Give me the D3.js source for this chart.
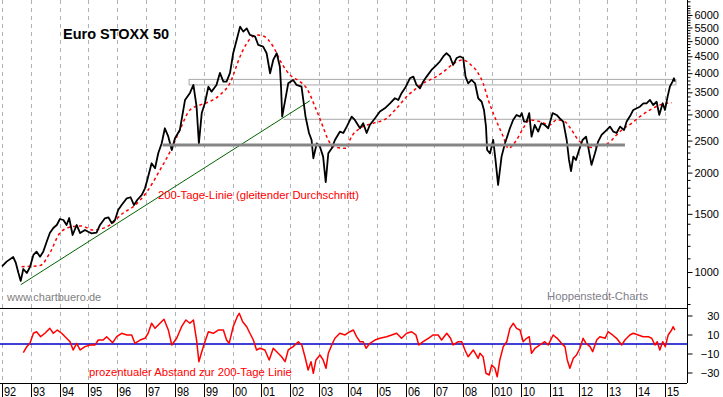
<!DOCTYPE html>
<html>
<head>
<meta charset="utf-8">
<script src="https://cdn.jsdelivr.net/npm/d3@7"></script>
<style>
    body { margin: 0; background: #fff; }
    text { font-family: "Liberation Sans", Arial, sans-serif; }
</style>
</head>
<body>
<svg id="chart"></svg>
<script>
// Euro STOXX 50 (decimal year, index points)
var priceYears = [1992.00, 1992.16, 1992.39, 1992.48, 1992.57, 1992.65, 1992.74, 1992.86, 1992.97, 1993.09,
    1993.20, 1993.32, 1993.43, 1993.55, 1993.66, 1993.78, 1993.90, 1994.01, 1994.13, 1994.24,
    1994.33, 1994.45, 1994.59, 1994.71, 1994.88, 1994.99, 1995.11, 1995.28, 1995.40, 1995.57,
    1995.69, 1995.81, 1995.92, 1996.03, 1996.15, 1996.33, 1996.46, 1996.58, 1996.69, 1996.85,
    1996.96, 1997.04, 1997.19, 1997.31, 1997.42, 1997.54, 1997.65, 1997.77, 1997.89, 1998.00,
    1998.17, 1998.35, 1998.52, 1998.64, 1998.75, 1998.83, 1998.93, 1999.04, 1999.16, 1999.27,
    1999.44, 1999.56, 1999.68, 1999.79, 1999.91, 2000.02, 2000.14, 2000.26, 2000.37, 2000.49,
    2000.60, 2000.78, 2000.89, 2001.06, 2001.18, 2001.30, 2001.41, 2001.53, 2001.64, 2001.68,
    2001.72, 2001.93, 2002.10, 2002.22, 2002.39, 2002.53, 2002.65, 2002.74, 2002.80, 2002.92,
    2003.03, 2003.14, 2003.23, 2003.32, 2003.44, 2003.55, 2003.72, 2003.84, 2003.96, 2004.13,
    2004.24, 2004.42, 2004.53, 2004.65, 2004.76, 2004.94, 2005.11, 2005.28, 2005.46, 2005.63,
    2005.75, 2005.86, 2006.01, 2006.15, 2006.27, 2006.38, 2006.50, 2006.61, 2006.73, 2006.90,
    2007.08, 2007.19, 2007.31, 2007.42, 2007.54, 2007.65, 2007.77, 2007.89, 2008.00, 2008.08,
    2008.17, 2008.29, 2008.41, 2008.52, 2008.64, 2008.72, 2008.79, 2008.83, 2008.93, 2009.04,
    2009.12, 2009.21, 2009.33, 2009.45, 2009.62, 2009.73, 2009.85, 2009.97, 2010.03, 2010.11,
    2010.20, 2010.29, 2010.37, 2010.48, 2010.60, 2010.71, 2010.83, 2010.95, 2011.10, 2011.24,
    2011.35, 2011.47, 2011.59, 2011.67, 2011.74, 2011.82, 2011.91, 2012.02, 2012.14, 2012.26,
    2012.34, 2012.45, 2012.57, 2012.68, 2012.80, 2012.98, 2013.09, 2013.21, 2013.32, 2013.44,
    2013.58, 2013.67, 2013.81, 2013.90, 2014.02, 2014.13, 2014.25, 2014.36, 2014.48, 2014.59,
    2014.71, 2014.80, 2014.92, 2015.00, 2015.09, 2015.17, 2015.26, 2015.31, 2015.34];
var priceValues = [1040, 1075, 1110, 1065, 993, 940, 1021, 993, 1035, 1126,
    1152, 1113, 1152, 1235, 1312, 1359, 1388, 1447, 1437, 1388,
    1457, 1294, 1388, 1312, 1340, 1324, 1309, 1315, 1388, 1454,
    1464, 1405, 1437, 1541, 1595, 1672, 1684, 1595, 1652, 1711,
    1792, 1899, 2134, 2061, 2288, 2453, 2724, 2569, 2341, 2540,
    2692, 3318, 3485, 3684, 3166, 2453, 3031, 3249, 3641, 3516,
    3684, 4006, 3770, 3770, 4006, 4596, 5042, 5532, 5343, 5467,
    5221, 5159, 4869, 4811, 4596, 3997, 4386, 4596, 4185, 3641,
    2955, 3727, 3815, 3684, 3641, 2955, 2636, 2510, 2210, 2453,
    2396, 2235, 1870, 2288, 2368, 2510, 2660, 2636, 2756, 2955,
    2886, 2724, 2820, 2636, 2787, 2920, 3060, 3131, 3242, 3358,
    3318, 3478, 3641, 3860, 3905, 3684, 3600, 3770, 3905, 4090,
    4235, 4339, 4494, 4596, 4494, 4235, 4445, 4494, 4445, 3905,
    3727, 3815, 3727, 3358, 3277, 3095, 2756, 2341, 2288, 2510,
    2184, 1834, 2235, 2453, 2724, 2886, 2989, 2955, 3027, 2854,
    2854, 3027, 2569, 2787, 2660, 2820, 2787, 2724, 3027, 2989,
    2920, 2854, 2510, 2184, 2020, 2235, 2184, 2341, 2510, 2569,
    2380, 2110, 2288, 2482, 2600, 2692, 2756, 2660, 2636, 2756,
    2692, 2854, 2989, 3095, 3131, 3166, 3242, 3242, 3318, 3204,
    3277, 2989, 3242, 3095, 3397, 3641, 3770, 3860, 3770];

// 200-Tage-Linie
var maYears = [1992.68, 1993.32, 1993.66, 1994.01, 1994.42, 1994.76, 1995.16, 1995.75, 1996.20, 1996.54,
    1997.03, 1997.48, 1997.83, 1998.17, 1998.52, 1998.87, 1999.21, 1999.56, 1999.91, 2000.26,
    2000.49, 2000.83, 2001.06, 2001.41, 2001.70, 2001.99, 2002.34, 2002.57, 2002.86, 2003.09,
    2003.32, 2003.49, 2003.96, 2004.07, 2004.42, 2004.88, 2005.34, 2005.69, 2006.04, 2006.38,
    2006.61, 2006.96, 2007.31, 2007.65, 2008.00, 2008.23, 2008.52, 2008.69, 2008.87, 2009.04,
    2009.21, 2009.39, 2009.56, 2009.85, 2010.08, 2010.31, 2010.66, 2011.00, 2011.24, 2011.52,
    2011.76, 2011.99, 2012.22, 2012.45, 2012.74, 2013.03, 2013.26, 2013.50, 2013.84, 2014.13,
    2014.48, 2014.82, 2015.06, 2015.23];
var maValues = [1038, 1046, 1142, 1312, 1371, 1378, 1340, 1388, 1509, 1573,
    1751, 2036, 2314, 2692, 3095, 3204, 3284, 3436, 3735, 4494,
    4926, 5221, 5185, 4811, 4286, 3950, 3770, 3600, 3166, 2820,
    2510, 2396, 2368, 2510, 2724, 2820, 2920, 3131, 3397, 3600,
    3727, 3860, 4033, 4266, 4386, 4266, 3997, 3727, 3318, 3027,
    2787, 2569, 2368, 2510, 2724, 2886, 2854, 2787, 2886, 2854,
    2692, 2510, 2424, 2384, 2424, 2453, 2569, 2692, 2820, 2955,
    3095, 3204, 3242, 3255];

// prozentualer Abstand zur 200-Tage-Linie
var oscYears = [1992.74, 1992.86, 1992.97, 1993.09, 1993.20, 1993.34, 1993.49, 1993.66, 1993.78, 1993.92,
    1994.07, 1994.24, 1994.36, 1994.47, 1994.59, 1994.71, 1994.88, 1995.05, 1995.23, 1995.34,
    1995.51, 1995.63, 1995.84, 1995.98, 1996.15, 1996.33, 1996.50, 1996.61, 1996.79, 1996.96,
    1997.07, 1997.19, 1997.31, 1997.48, 1997.62, 1997.77, 1997.89, 1998.06, 1998.23, 1998.38,
    1998.52, 1998.64, 1998.75, 1998.83, 1998.93, 1999.04, 1999.16, 1999.33, 1999.50, 1999.68,
    1999.79, 1999.88, 2000.02, 2000.16, 2000.23, 2000.35, 2000.49, 2000.60, 2000.72, 2000.83,
    2000.95, 2001.12, 2001.27, 2001.41, 2001.53, 2001.70, 2001.82, 2001.93, 2002.10, 2002.28,
    2002.40, 2002.51, 2002.62, 2002.72, 2002.80, 2002.89, 2003.03, 2003.14, 2003.24, 2003.32,
    2003.44, 2003.55, 2003.72, 2003.90, 2004.07, 2004.19, 2004.30, 2004.42, 2004.53, 2004.63,
    2004.76, 2004.94, 2005.11, 2005.34, 2005.52, 2005.69, 2005.86, 2006.04, 2006.21, 2006.36,
    2006.46, 2006.61, 2006.79, 2006.96, 2007.13, 2007.25, 2007.43, 2007.56, 2007.65, 2007.83,
    2007.95, 2008.06, 2008.17, 2008.35, 2008.52, 2008.58, 2008.69, 2008.79, 2008.90, 2008.99,
    2009.10, 2009.18, 2009.27, 2009.39, 2009.51, 2009.62, 2009.74, 2009.85, 2009.97, 2010.08,
    2010.20, 2010.29, 2010.37, 2010.49, 2010.66, 2010.83, 2010.95, 2011.12, 2011.26, 2011.41,
    2011.53, 2011.61, 2011.70, 2011.82, 2011.93, 2012.05, 2012.16, 2012.26, 2012.40, 2012.49,
    2012.63, 2012.74, 2012.92, 2013.03, 2013.18, 2013.32, 2013.50, 2013.61, 2013.78, 2013.90,
    2014.07, 2014.24, 2014.42, 2014.54, 2014.65, 2014.73, 2014.82, 2014.92, 2015.01, 2015.11,
    2015.23, 2015.28, 2015.34];
var oscValues = [-9.2, -2.8, 0.7, 11.3, 12.9, 7.7, 11.3, 16.5, 11.3, 14.7,
    11.3, 6, 2.4, -6.3, 0.7, -6.3, -2.8, -1, -1, 4.2,
    4.2, 7.7, 1.4, 7.7, 11.3, 9.5, 9.5, 0.7, 4.2, 6,
    11.3, 21.8, 16.5, 21.8, 26, 14.7, -1, 6, 18.2, 25.3,
    21.8, 25.3, 4.2, -18.6, -8.1, 2.4, 12.9, 11.3, 14.7, 14.7,
    4.2, 0.7, 18.2, 28.7, 32.3, 23.5, 18.2, 11.3, 4.2, -6.3,
    -4.5, -6.3, -16.8, -4.5, -8.1, -13.4, -18.6, -6.3, -2.8, 2.4,
    -1, -13.4, -27.4, -18.6, -30.8, -16.8, -11.6, -16.8, -25.6, -9.8,
    -1, 6, 11.3, 9.5, 12.9, 14.7, 7.7, 2.4, 2.4, -4.5,
    0.7, 4.2, 6, 7.7, 9.5, 11.3, 6, 11.3, 12.9, 9.5,
    -1, 2.4, 6, 9.5, 9.5, 4.2, 11.3, 6, -1, 2.4,
    2.4, -6.3, -13.4, -6.3, -15.1, -9.8, -13.4, -30.8, -32.6, -22.1,
    -25.6, -34.4, -16.8, -2.8, 2.4, 16.5, 21.8, 16.5, 14.7, 2.4,
    6, 7.7, -9.8, -4.5, -1, 2.4, -1, 9.5, 6, 0.7,
    -2.8, -16.8, -25.6, -15.1, -11.6, -4.5, 6, 0.7, -2.8, -8.1,
    4.2, 7.7, 6, 12.9, 9.5, 6, -1, 4.2, 9.5, 11.3,
    9.5, 7.7, 7.7, 6, -1, 2.4, -6.3, 2.4, -2.8, 9.5,
    14.7, 18.2, 14.7];

// support / resistance marks
var boxYears = [1998.49, 2015.38];
var boxLevels = [3830, 3685];
var thinYears = [2001.76, 2015.08];
var thinLevel = 2900;
var thickYears = [1997.57, 2013.61];
var thickLevel = 2424;
var trendYears = [1992.65, 2002.68];
var trendValues = [915, 3300];

var yearLabels = ["92", "93", "94", "95", "96", "97", "98", "99", "00", "01", "02", "03",
    "04", "05", "06", "07", "08", "010", "10", "11", "12", "13", "14", "15"];
var priceTicks = [1000, 1500, 2000, 2500, 3000, 3500, 4000, 4500, 5000, 5500, 6000];
var oscTicks = [30, 10, -10, -30];

function init() {
    var w = 723;
    var h = 397;
    var axisX = 687;
    var sepY = 308;
    var bottomY = 383;

    var svg = d3.select("#chart")
        .attr("width", w)
        .attr("height", h)
        .style("display", "block")
        .style("background", "#fff");

    var xScale = d3.scaleLinear()
        .domain([1992, 2015])
        .range([2, 665]);

    var yScale = d3.scaleLog()
        .domain([1000, 6000])
        .range([272, 15]);

    var oScale = d3.scaleLinear()
        .domain([-30, 30])
        .range([372.5, 315.5]);

    // vertical dashed year grid
    svg.selectAll(".grid")
        .data(yearLabels)
        .enter()
        .append("line")
        .attr("class", "grid")
        .attr("x1", function (d, i) { return Math.round(xScale(1992 + i)) + 0.5; })
        .attr("x2", function (d, i) { return Math.round(xScale(1992 + i)) + 0.5; })
        .attr("y1", 0)
        .attr("y2", bottomY)
        .attr("stroke", "#b0b0b8")
        .attr("stroke-dasharray", "4,4");

    // resistance box
    svg.append("rect")
        .attr("x", xScale(boxYears[0]))
        .attr("y", yScale(boxLevels[0]))
        .attr("width", xScale(boxYears[1]) - xScale(boxYears[0]))
        .attr("height", yScale(boxLevels[1]) - yScale(boxLevels[0]))
        .attr("fill", "none")
        .attr("stroke", "#a8a8a8")
        .attr("stroke-width", 1);

    svg.append("line")
        .attr("x1", xScale(thinYears[0]))
        .attr("x2", xScale(thinYears[1]))
        .attr("y1", yScale(thinLevel))
        .attr("y2", yScale(thinLevel))
        .attr("stroke", "#a8a8a8")
        .attr("stroke-width", 1);

    // green trend line
    svg.append("line")
        .attr("x1", xScale(trendYears[0]))
        .attr("y1", yScale(trendValues[0]))
        .attr("x2", xScale(trendYears[1]))
        .attr("y2", yScale(trendValues[1]))
        .attr("stroke", "#006400")
        .attr("stroke-width", 1);

    var priceData = priceYears.map(function (d, i) { return [d, priceValues[i]]; });
    var maData = maYears.map(function (d, i) { return [d, maValues[i]]; });
    var oscData = oscYears.map(function (d, i) { return [d, oscValues[i]]; });

    var priceLine = d3.line()
        .x(function (d) { return xScale(d[0]); })
        .y(function (d) { return yScale(d[1]); });

    svg.append("path")
        .datum(maData)
        .attr("d", priceLine.curve(d3.curveMonotoneX))
        .attr("fill", "none")
        .attr("stroke", "#ff0000")
        .attr("stroke-width", 1.5)
        .attr("stroke-dasharray", "3,3");

    svg.append("path")
        .datum(priceData)
        .attr("d", priceLine.curve(d3.curveLinear))
        .attr("fill", "none")
        .attr("stroke", "#000")
        .attr("stroke-width", 1.8)
        .attr("stroke-linejoin", "round");

    // thick support line drawn over the price
    svg.append("line")
        .attr("x1", xScale(thickYears[0]))
        .attr("x2", xScale(thickYears[1]))
        .attr("y1", yScale(thickLevel))
        .attr("y2", yScale(thickLevel))
        .attr("stroke", "#858585")
        .attr("stroke-width", 3);

    // lower panel
    svg.append("line")
        .attr("x1", 0)
        .attr("x2", axisX)
        .attr("y1", oScale(0))
        .attr("y2", oScale(0))
        .attr("stroke", "#0000c8")
        .attr("stroke-width", 1.5);

    svg.append("path")
        .datum(oscData)
        .attr("d", d3.line()
            .x(function (d) { return xScale(d[0]); })
            .y(function (d) { return oScale(d[1]); }))
        .attr("fill", "none")
        .attr("stroke", "#ff0000")
        .attr("stroke-width", 1.5)
        .attr("stroke-linejoin", "round");

    // panel separators
    svg.append("line")
        .attr("x1", 0).attr("x2", axisX)
        .attr("y1", sepY + 0.5).attr("y2", sepY + 0.5)
        .attr("stroke", "#000");
    svg.append("line")
        .attr("x1", 0).attr("x2", axisX)
        .attr("y1", bottomY + 0.5).attr("y2", bottomY + 0.5)
        .attr("stroke", "#000");

    // right axis
    var minorTicks = d3.range(800, 6700, 100).filter(function (d) { return d % 500 !== 0; });

    var yAxis = d3.axisRight(yScale)
        .tickValues(priceTicks)
        .tickSize(5)
        .tickSizeOuter(0)
        .tickPadding(2)
        .tickFormat(d3.format("d"));

    var yMinor = d3.axisRight(yScale)
        .tickValues(minorTicks)
        .tickSize(3)
        .tickSizeOuter(0)
        .tickFormat("");

    var oAxis = d3.axisRight(oScale)
        .tickValues(oscTicks)
        .tickSize(5)
        .tickSizeOuter(0)
        .tickFormat(d3.format("d"));

    var gy = svg.append("g")
        .attr("transform", "translate(" + (axisX + 0.5) + ",0)")
        .call(yAxis);
    var gm = svg.append("g")
        .attr("transform", "translate(" + (axisX + 0.5) + ",0)")
        .call(yMinor);
    var go = svg.append("g")
        .attr("transform", "translate(" + (axisX + 0.5) + ",0)")
        .call(oAxis);

    [gy, gm, go].forEach(function (g) {
        g.select(".domain").remove();
        g.selectAll("line").attr("stroke", "#000");
        g.selectAll("text")
            .attr("fill", "#000")
            .style("font-family", "\"Liberation Sans\", Arial, sans-serif")
            .style("font-size", "11px");
    });
    go.selectAll("text")
        .attr("text-anchor", "end")
        .attr("x", 32);

    svg.append("line")
        .attr("x1", axisX + 0.5).attr("x2", axisX + 0.5)
        .attr("y1", 0).attr("y2", bottomY)
        .attr("stroke", "#000");

    // year axis
    var years = svg.append("g");
    years.selectAll("line")
        .data(yearLabels)
        .enter()
        .append("line")
        .attr("x1", function (d, i) { return Math.round(xScale(1992 + i)) + 0.5; })
        .attr("x2", function (d, i) { return Math.round(xScale(1992 + i)) + 0.5; })
        .attr("y1", bottomY)
        .attr("y2", h)
        .attr("stroke", "#000");
    years.selectAll("text")
        .data(yearLabels)
        .enter()
        .append("text")
        .attr("x", function (d, i) { return Math.round(xScale(1992 + i)) + 2; })
        .attr("y", 395.5)
        .attr("font-size", "13px")
        .attr("textLength", function (d) { return d.length * 6.1; })
        .attr("lengthAdjust", "spacingAndGlyphs")
        .attr("fill", "#000")
        .text(function (d) { return d; });

    // texts
    svg.append("text")
        .attr("x", 63)
        .attr("y", 39.3)
        .attr("font-size", "14.5px")
        .attr("font-weight", "bold")
        .attr("fill", "#000")
        .text("Euro STOXX 50");

    svg.append("text")
        .attr("x", 158)
        .attr("y", 199)
        .attr("font-size", "11.3px")
        .attr("fill", "#ff0000")
        .text("200-Tage-Linie (gleitender Durchschnitt)");

    svg.append("text")
        .attr("x", 7)
        .attr("y", 300.5)
        .attr("font-size", "11px")
        .attr("fill", "#808080")
        .text("www.chartbuero.de");

    svg.append("text")
        .attr("x", 547)
        .attr("y", 299.5)
        .attr("font-size", "11.3px")
        .attr("fill", "#80808c")
        .text("Hoppenstedt-Charts");

    svg.append("text")
        .attr("x", 89)
        .attr("y", 375.5)
        .attr("font-size", "11.3px")
        .attr("fill", "#ff0000")
        .text("prozentualer Abstand zur 200-Tage Linie");
}
window.onload = init;
</script>
</body>
</html>
